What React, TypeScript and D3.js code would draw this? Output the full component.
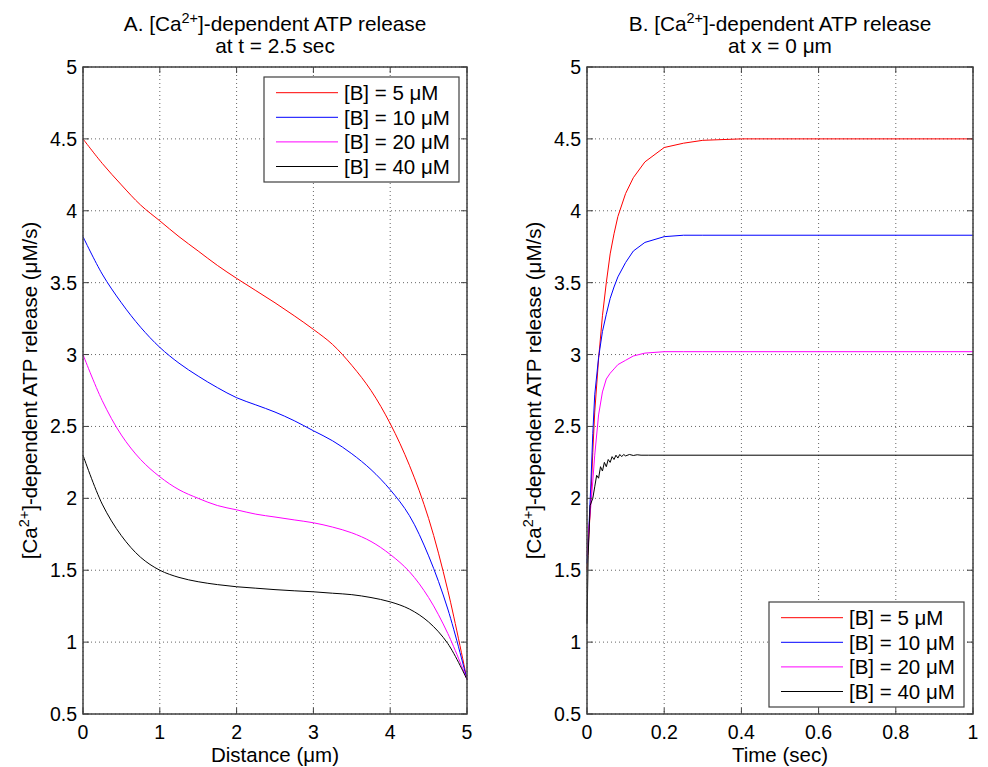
import React from 'react';
import * as d3 from 'd3';

// panel A: release vs distance at t = 2.5 sec
const distance = [0, 0.25, 0.5, 0.75, 1, 1.25, 1.5, 1.75, 2, 2.25, 2.5, 2.75, 3, 3.25, 3.5, 3.75, 4, 4.25, 4.5, 4.75, 5];
const distB5 = [4.5, 4.33, 4.18, 4.04, 3.93, 3.82, 3.72, 3.62, 3.53, 3.445, 3.36, 3.27, 3.175, 3.07, 2.925, 2.75, 2.52, 2.23, 1.86, 1.36, 0.74];
const distB10 = [3.82, 3.56, 3.36, 3.19, 3.05, 2.94, 2.85, 2.77, 2.7, 2.65, 2.6, 2.54, 2.47, 2.4, 2.31, 2.2, 2.06, 1.88, 1.6, 1.23, 0.74];
const distB20 = [3.0, 2.68, 2.44, 2.27, 2.15, 2.06, 2.0, 1.95, 1.92, 1.89, 1.87, 1.85, 1.83, 1.8, 1.76, 1.7, 1.61, 1.49, 1.31, 1.06, 0.74];
const distB40 = [2.3, 1.96, 1.74, 1.59, 1.5, 1.45, 1.42, 1.4, 1.385, 1.375, 1.365, 1.357, 1.35, 1.34, 1.33, 1.31, 1.28, 1.23, 1.14, 0.99, 0.74];

// panel B: release vs time at x = 0 um
const time = [0, 0.005, 0.01, 0.015, 0.02, 0.03, 0.04, 0.05, 0.06, 0.07, 0.08, 0.1, 0.12, 0.15, 0.2, 0.25, 0.3, 0.4, 1];
const timeB5 = [1.5, 1.75, 2.0, 2.32, 2.6, 2.97, 3.27, 3.5, 3.7, 3.84, 3.96, 4.12, 4.23, 4.34, 4.44, 4.47, 4.49, 4.5, 4.5];
const timeB10 = [1.55, 1.8, 2.1, 2.45, 2.72, 2.98, 3.16, 3.28, 3.39, 3.47, 3.54, 3.64, 3.72, 3.78, 3.82, 3.83, 3.83, 3.83, 3.83];
const timeB20 = [1.6, 1.8, 1.95, 2.12, 2.3, 2.58, 2.74, 2.83, 2.87, 2.9, 2.93, 2.96, 2.99, 3.01, 3.02, 3.02, 3.02, 3.02, 3.02];
// the 40 uM trace has a small numerical ripple, so it gets its own time points
const timeB40Pts = [0, 0.003, 0.008, 0.015, 0.02, 0.025, 0.03, 0.035, 0.04, 0.045, 0.05, 0.055, 0.06, 0.065, 0.07, 0.075, 0.08, 0.085, 0.09, 0.095, 0.1, 0.11, 0.12, 0.13, 0.14, 0.16, 0.2, 1];
const timeB40 = [1.13, 1.6, 1.95, 2.0, 2.08, 2.16, 2.14, 2.22, 2.19, 2.25, 2.22, 2.27, 2.25, 2.29, 2.27, 2.3, 2.28, 2.305, 2.29, 2.305, 2.295, 2.305, 2.298, 2.303, 2.3, 2.3, 2.3, 2.3];

const legendLabels = ['[B] = 5 μM', '[B] = 10 μM', '[B] = 20 μM', '[B] = 40 μM'];
const colors = ['#ff0000', '#0000ff', '#ff00ff', '#000000'];
const yTicks = [0.5, 1, 1.5, 2, 2.5, 3, 3.5, 4, 4.5, 5];
const xTicksA = [0, 1, 2, 3, 4, 5];
const xTicksB = [0, 0.2, 0.4, 0.6, 0.8, 1];

const FONT = 'Liberation Sans, Arial, sans-serif';
const TOP = 67;
const BOTTOM = 714;
const AXIS = '#404040';

type Series = { xs: number[]; ys: number[]; color: string; label: string };

function Panel({ x0, x1, letter, subtitle, xLabel, xDomain, xTicks, series, legendAt, curve }: {
  x0: number; x1: number; letter: string; subtitle: string; xLabel: string;
  xDomain: [number, number]; xTicks: number[]; series: Series[];
  legendAt: [number, number]; curve: d3.CurveFactory;
}) {
  const x = d3.scaleLinear().domain(xDomain).range([x0, x1]);
  const y = d3.scaleLinear().domain([0.5, 5]).range([BOTTOM, TOP]);
  const cx = (x0 + x1) / 2;
  const fmt = (v: number) => String(+v.toFixed(2));

  const line = (s: Series) =>
    d3.line<number>().x((d, i) => x(s.xs[i])).y(d => y(d)).curve(curve)(s.ys) || '';

  const [lx, ly] = legendAt;
  const lw = 195, lh = 105;

  return (
    <g fontFamily={FONT} fill="#000">
      {/* title */}
      <text x={cx} y={31} fontSize={20.8} textAnchor="middle">
        {letter}. [Ca<tspan dy={-8} fontSize={14.5}>2+</tspan><tspan dy={8}>]-dependent ATP release</tspan>
      </text>
      <text x={cx} y={53} fontSize={20.8} textAnchor="middle">{subtitle}</text>

      {/* grid */}
      {xTicks.map(t => (
        <line key={'gx' + t} x1={x(t)} x2={x(t)} y1={TOP} y2={BOTTOM} stroke="#666" strokeDasharray="1 3" />
      ))}
      {yTicks.map(t => (
        <line key={'gy' + t} x1={x0} x2={x1} y1={y(t)} y2={y(t)} stroke="#666" strokeDasharray="1 3" />
      ))}

      {/* data */}
      {series.map(s => (
        <path key={s.label} d={line(s)} fill="none" stroke={s.color} strokeWidth={1} />
      ))}

      {/* frame + inward ticks */}
      <rect x={x0} y={TOP} width={x1 - x0} height={BOTTOM - TOP} fill="none" stroke={AXIS} strokeWidth={1.5} />
      {xTicks.map(t => (
        <g key={'tx' + t} stroke={AXIS}>
          <line x1={x(t)} x2={x(t)} y1={BOTTOM} y2={BOTTOM - 6} />
          <line x1={x(t)} x2={x(t)} y1={TOP} y2={TOP + 6} />
        </g>
      ))}
      {yTicks.map(t => (
        <g key={'ty' + t} stroke={AXIS}>
          <line x1={x0} x2={x0 + 6} y1={y(t)} y2={y(t)} />
          <line x1={x1} x2={x1 - 6} y1={y(t)} y2={y(t)} />
        </g>
      ))}

      {/* tick labels */}
      {xTicks.map(t => (
        <text key={'lx' + t} x={x(t)} y={BOTTOM + 25} fontSize={19.5} textAnchor="middle">{fmt(t)}</text>
      ))}
      {yTicks.map(t => (
        <text key={'ly' + t} x={x0 - 6} y={y(t) + 7} fontSize={19.5} textAnchor="end">{fmt(t)}</text>
      ))}

      {/* axis labels */}
      <text x={cx} y={762} fontSize={20.5} textAnchor="middle">{xLabel}</text>
      <text transform={`translate(${x0 - 46},${(TOP + BOTTOM) / 2}) rotate(-90)`} fontSize={20.5} textAnchor="middle">
        [Ca<tspan dy={-8} fontSize={14.5}>2+</tspan><tspan dy={8}>]-dependent ATP release (μM/s)</tspan>
      </text>

      {/* legend */}
      <rect x={lx} y={ly} width={lw} height={lh} fill="#fff" stroke={AXIS} strokeWidth={1.2} />
      {series.map((s, i) => {
        const ry = ly + 15.7 + i * 24.6;
        return (
          <g key={'lg' + s.label}>
            <line x1={lx + 12} x2={lx + 74} y1={ry} y2={ry} stroke={s.color} strokeWidth={1} />
            <text x={lx + 80} y={ry + 7.5} fontSize={20.5}>{s.label}</text>
          </g>
        );
      })}
    </g>
  );
}

export default function App() {
  const seriesA: Series[] = [distB5, distB10, distB20, distB40].map((ys, i) => ({
    xs: distance, ys, color: colors[i], label: legendLabels[i],
  }));
  const seriesB: Series[] = [
    { xs: time, ys: timeB5, color: colors[0], label: legendLabels[0] },
    { xs: time, ys: timeB10, color: colors[1], label: legendLabels[1] },
    { xs: time, ys: timeB20, color: colors[2], label: legendLabels[2] },
    { xs: timeB40Pts, ys: timeB40, color: colors[3], label: legendLabels[3] },
  ];

  return (
    <svg width={988} height={767} style={{ position: 'absolute', left: 0, top: 0, background: '#fff' }}>
      <Panel x0={83} x1={467} letter="A" subtitle="at t = 2.5 sec" xLabel="Distance (μm)"
        xDomain={[0, 5]} xTicks={xTicksA} series={seriesA} legendAt={[264, 77]} curve={d3.curveCatmullRom} />
      <Panel x0={587} x1={973} letter="B" subtitle="at x = 0 μm" xLabel="Time (sec)"
        xDomain={[0, 1]} xTicks={xTicksB} series={seriesB} legendAt={[769, 602]} curve={d3.curveLinear} />
    </svg>
  );
}
